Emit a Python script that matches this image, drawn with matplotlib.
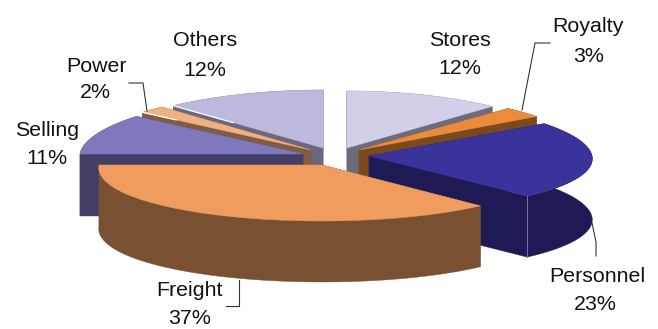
import numpy as np
import matplotlib
matplotlib.use("Agg")
import matplotlib.pyplot as plt
from matplotlib.patches import Polygon

plt.rcParams["font.family"] = ["Liberation Sans", "DejaVu Sans"]

# Cost shares, clockwise from twelve o'clock
categories = ["Stores", "Royalty", "Personnel", "Freight", "Selling", "Power", "Others"]
shares = [12, 3, 23, 37, 11, 2, 12]

# Slice appearance
top_colors = ["#D2D0E8", "#EB8C3C", "#3A339B", "#EF9C5E", "#7F78BC", "#F0B080", "#BDB9DD"]
side_colors = ["#6C6C7C", "#7A4A1E", "#1E1A55", "#7A5032", "#423E66", "#7F5C42", "#6A677F"]

# Exploded position of each slice's tip, and its projected radii
tip_x = [347, 359, 369, 322, 303, 311, 323]
tip_y = [148, 150, 156, 165, 154, 150, 148]
radius_x = [220, 226, 223, 223, 223, 226, 227]
radius_y = [57, 57, 55, 56, 59, 59, 58]
depths = [60, 60, 61, 61, 62, 60, 60]

# Nearer parts of the rim appear slightly wider
perspective = 0.05

# Back slices are painted first
paint_order = [6, 0, 5, 1, 4, 2, 3]

label_pos = {
    "Stores": (460, 40), "Royalty": (588, 27), "Personnel": (597, 276),
    "Freight": (190, 290), "Selling": (47, 130), "Power": (96, 66), "Others": (205, 41),
}
pct_pos = {
    "Stores": (460, 69), "Royalty": (589, 56), "Personnel": (595, 304),
    "Freight": (190, 318), "Selling": (47, 158), "Power": (95, 92), "Others": (205, 71),
}
leaders = [
    ([522, 535, 550], [110, 43, 43]),
    ([147, 143, 129], [111, 83, 83]),
    ([592, 596, 596], [223, 242, 256]),
    ([239, 239, 226], [280, 306, 306]),
]


def rim_point(i, angle):
    """Screen position of the outer edge of slice i at a clockwise angle."""
    widen = 1 - perspective * np.cos(angle)
    return (tip_x[i] + radius_x[i] * widen * np.sin(angle),
            tip_y[i] - radius_y[i] * np.cos(angle))


fig = plt.figure(figsize=(6.58, 3.29), dpi=100)
ax = fig.add_axes([0, 0, 1, 1])
ax.set_xlim(0, 658)
ax.set_ylim(329, 0)
ax.axis("off")

edges = np.cumsum([0] + shares) / sum(shares) * 2 * np.pi

for i in paint_order:
    layer = 2 * paint_order.index(i)
    theta = np.linspace(edges[i], edges[i + 1], 80)
    ox, oy = rim_point(i, theta)
    top = np.column_stack([np.r_[tip_x[i], ox], np.r_[tip_y[i], oy]])
    d = depths[i]

    # Extruded walls: radial faces and the outer rim share one shade
    for a, b in [(0, 1), (0, len(top) - 1)]:
        quad = [top[a], top[b], top[b] + [0, d], top[a] + [0, d]]
        ax.add_patch(Polygon(quad, fc=side_colors[i], ec=side_colors[i], lw=0.3, zorder=layer))
    rim = np.vstack([top[1:], (top[1:] + [0, d])[::-1]])
    ax.add_patch(Polygon(rim, fc=side_colors[i], ec=side_colors[i], lw=0.3, zorder=layer))
    ax.add_patch(Polygon(top, fc=top_colors[i], ec=top_colors[i], lw=0.3, zorder=layer + 1))

    name = categories[i]
    ax.text(*label_pos[name], name, fontsize=15.4, ha="center", va="center", color="#111111", zorder=30)
    ax.text(*pct_pos[name], f"{shares[i]}%", fontsize=15.4, ha="center", va="center", color="#111111", zorder=30)

# Highlight along the Personnel front corner
cx, cy = rim_point(2, edges[3])
ax.plot([cx, cx], [cy, cy + depths[2]], color="#77779A", lw=0.7, zorder=2 * paint_order.index(2) + 1)

# White glints on the Others and Power radial edges
ox0, oy0 = rim_point(6, edges[6])
t = 0.4
ax.plot([ox0, ox0 + t * (tip_x[6] - ox0)], [oy0, oy0 + t * (tip_y[6] - oy0)],
        color="white", lw=0.9, zorder=2 * paint_order.index(6) + 1)
px0, py0 = rim_point(5, edges[5])
t = 0.2
ax.plot([px0, px0 + t * (tip_x[5] - px0)], [py0, py0 + t * (tip_y[5] - py0)],
        color="white", lw=0.9, zorder=2 * paint_order.index(5) + 1)

for xs, ys in leaders:
    ax.plot(xs, ys, color="#333333", lw=0.8, zorder=25)

fig.savefig("out.png", dpi=100)
